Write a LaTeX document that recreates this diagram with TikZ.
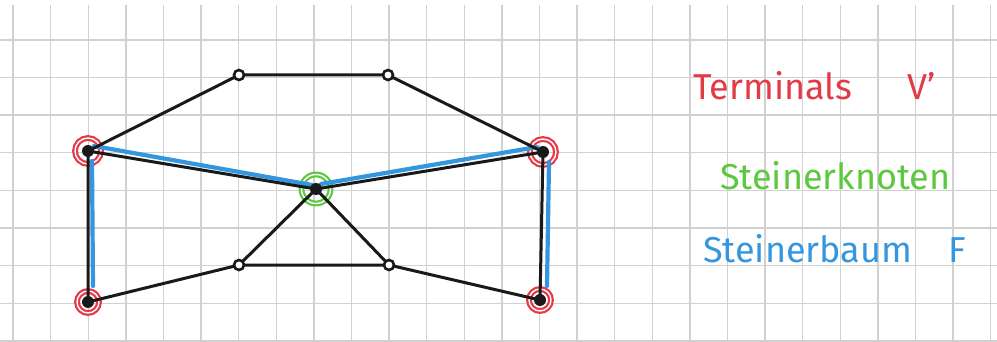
\documentclass[tikz,border=0pt]{standalone}
\usepackage{fontspec}
\setmainfont{Fira Sans}
\begin{document}
\begin{tikzpicture}[x=1pt,y=-1pt,
  gridline/.style={draw=black!18,line width=1.4pt},
  edge/.style={draw=black!90,line width=3pt,line cap=round},
  tree/.style={draw=treeblue,line width=4.2pt,line cap=round},
  term/.style={circle,fill=black!90,inner sep=0pt,minimum size=12pt},
  plain/.style={circle,draw=black!90,fill=white,line width=2.6pt,inner sep=0pt,minimum size=10pt},
  ringred/.style={circle,draw=termred,line width=2.2pt,double=white,double distance=1.4pt,inner sep=0pt,minimum size=26pt},
  ringgreen/.style={circle,draw=steingreen,line width=2.2pt,double=white,double distance=1.4pt,inner sep=0pt,minimum size=29pt},
  legend/.style={font=\fontsize{36}{40}\selectfont,anchor=west,inner sep=0pt}
]
\definecolor{termred}{RGB}{228,58,72}
\definecolor{steingreen}{RGB}{92,200,62}
\definecolor{treeblue}{RGB}{52,150,222}
\useasboundingbox[fill=white] (0,0) rectangle (997,342);
% grid
\foreach \k in {0,...,26} \draw[gridline] ({13+37.6*\k},5) -- ({13+37.6*\k},342);
\foreach \k in {0,...,8} \draw[gridline] (0,{40+37.6*\k}) -- (997,{40+37.6*\k});
% node positions
\coordinate (pA) at (88,151);
\coordinate (pB) at (88,302);
\coordinate (pC) at (239,75);
\coordinate (pD) at (388,75);
\coordinate (pS) at (316,189);
\coordinate (pE) at (239,265);
\coordinate (pF) at (389,265);
\coordinate (pG) at (543,152);
\coordinate (pH) at (540,300);
% rings
\node[ringred] (rA) at (pA) {};
\node[ringred,minimum size=22pt] (rB) at (pB) {};
\node[ringred] (rG) at (pG) {};
\node[ringred,minimum size=22pt] (rH) at (pH) {};
\node[ringgreen] (rS) at (pS) {};
% blue tree
\draw[tree] ([shift={(6,-5)}]pA) -- ([shift={(-4,-4)}]pS);
\draw[tree] ([shift={(5,-5)}]pS) -- ([shift={(-6,-5)}]pG);
\draw[tree] ([shift={(4,10)}]pA) -- ([shift={(5,-16)}]pB);
\draw[tree] ([shift={(6,10)}]pG) -- ([shift={(7,-14)}]pH);
% black edges
\draw[edge] (pA) -- (pC) -- (pD) -- (pG);
\draw[edge] (pA) -- (pS) -- (pG);
\draw[edge] (pA) -- (pB) -- (pE) -- (pF) -- (pH) -- (pG);
\draw[edge] (pS) -- (pE);
\draw[edge] (pS) -- (pF);
% vertices
\node[term] (A) at (pA) {};
\node[term] (B) at (pB) {};
\node[term] (G) at (pG) {};
\node[term] (H) at (pH) {};
\node[term] (S) at (pS) {};
\node[plain] (C) at (pC) {};
\node[plain] (D) at (pD) {};
\node[plain] (E) at (pE) {};
\node[plain] (F) at (pF) {};
% legend
\node[legend,text=termred] (l1) at (693,86) {Terminals\hspace{55pt}V'};
\node[legend,text=steingreen] (l2) at (720,176) {Steinerknoten};
\node[legend,text=treeblue] (l3) at (703,249) {Steinerbaum\hspace{36pt}F};
\end{tikzpicture}
\end{document}
